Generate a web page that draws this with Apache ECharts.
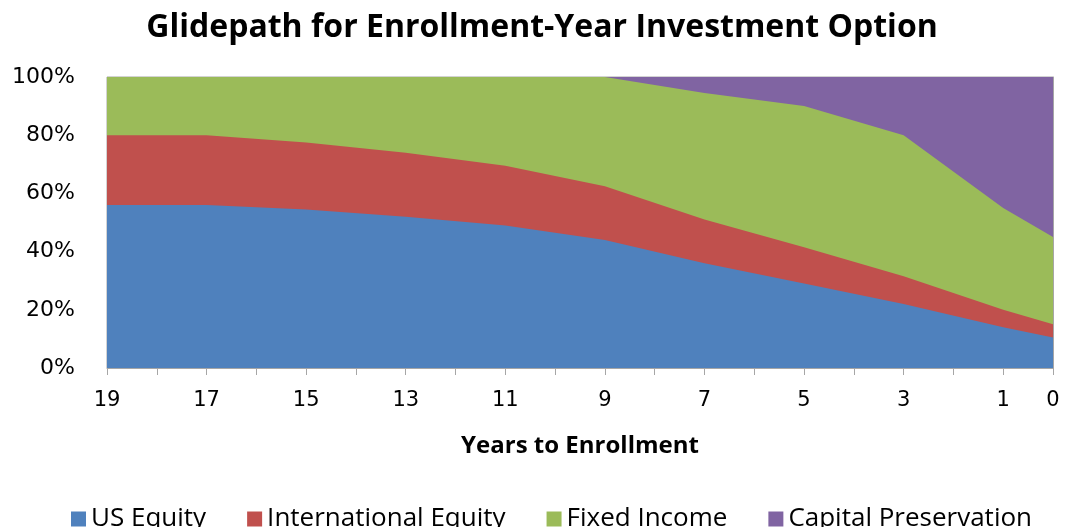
<!DOCTYPE html>
<html>
<head>
<meta charset="utf-8">
<title>Glidepath</title>
<script src="https://cdn.jsdelivr.net/npm/echarts@6/dist/echarts.min.js"></script>
<style>
  * { margin: 0; padding: 0 }
  html, body { width: 100%; height: 100%; background: #fff; }
  #chart { width: 1065px; height: 527px; }
</style>
</head>
<body>
<div id="chart"></div>
<script type="text/javascript">
// years to enrollment (x values)
var years = [19, 17, 15, 13, 11, 9, 7, 5, 3, 1, 0];
// allocation per asset class, in percent
var usEquity = [56, 56, 54.5, 52, 49, 44, 36, 29, 22, 14, 10.5];
var intlEquity = [24, 24, 23, 22, 20.5, 18.5, 15, 12.5, 9.5, 6, 4.5];
var fixedIncome = [20, 20, 22.5, 26, 30.5, 37.5, 43.5, 48.5, 48.5, 35, 30];
var capitalPres = [0, 0, 0, 0, 0, 0, 5.5, 10, 20, 45, 55];
var xLabels = [19, 17, 15, 13, 11, 9, 7, 5, 3, 1, 0];

var names = ['US Equity', 'International Equity', 'Fixed Income', 'Capital Preservation'];
var colors = ['#4F81BD', '#C0504D', '#9BBB59', '#8064A2'];
var values = [usEquity, intlEquity, fixedIncome, capitalPres];

// running totals, so each band sits on the ones below it
var tops = [];
var run = years.map(function () { return 0; });
values.forEach(function (arr) {
  run = run.map(function (v, i) { return v + arr[i]; });
  tops.push(run.slice());
});

function pairs(arr) {
  return years.map(function (y, i) { return [y, arr[i]]; });
}

// draw the tallest band first so the lower ones paint over it
var series = [];
for (var k = values.length - 1; k >= 0; k--) {
  series.push({
    name: names[k],
    type: 'line',
    showSymbol: false,
    lineStyle: { width: 0 },
    itemStyle: { color: colors[k] },
    areaStyle: { color: colors[k], opacity: 1 },
    data: pairs(tops[k])
  });
}

var chart = echarts.init(document.getElementById('chart'));
chart.setOption({
  animation: false,
  title: {
    text: 'Glidepath for Enrollment-Year Investment Option',
    left: 537,
    textAlign: 'center',
    top: 7,
    textStyle: { fontFamily: 'Open Sans', fontWeight: 'bold', fontSize: 32, color: '#000' }
  },
  grid: {
    left: 107, right: 12, top: 77, bottom: 159,
    show: true, borderColor: '#a6a6a6', borderWidth: 1
  },
  legend: {
    bottom: -10,
    left: 66,
    itemWidth: 15,
    itemHeight: 15,
    itemGap: 41,
    icon: 'rect',
    textStyle: { fontFamily: 'Open Sans', fontSize: 26, color: '#000' },
    data: names
  },
  xAxis: {
    type: 'value',
    inverse: true,
    min: 0,
    max: 19,
    interval: 1,
    name: 'Years to Enrollment',
    nameLocation: 'middle',
    nameGap: 66,
    nameTextStyle: { fontFamily: 'Open Sans', fontWeight: 'bold', fontSize: 24, color: '#000' },
    axisLine: { lineStyle: { color: '#a6a6a6' } },
    axisTick: { length: 7, lineStyle: { color: '#a6a6a6' } },
    splitLine: { show: false },
    axisLabel: {
      margin: 22,
      fontFamily: 'DejaVu Sans',
      fontSize: 21,
      color: '#000',
      formatter: function (v) { return xLabels.indexOf(v) >= 0 ? String(v) : ''; }
    }
  },
  yAxis: {
    type: 'value',
    min: 0,
    max: 100,
    interval: 20,
    axisLine: { show: true, lineStyle: { color: '#a6a6a6' } },
    axisTick: { show: true, length: 9, lineStyle: { color: '#a6a6a6' } },
    splitLine: { show: false },
    axisLabel: {
      margin: 32,
      fontFamily: 'DejaVu Sans',
      fontSize: 22,
      color: '#000',
      formatter: '{value}%'
    }
  },
  series: series
});
</script>
</body>
</html>
